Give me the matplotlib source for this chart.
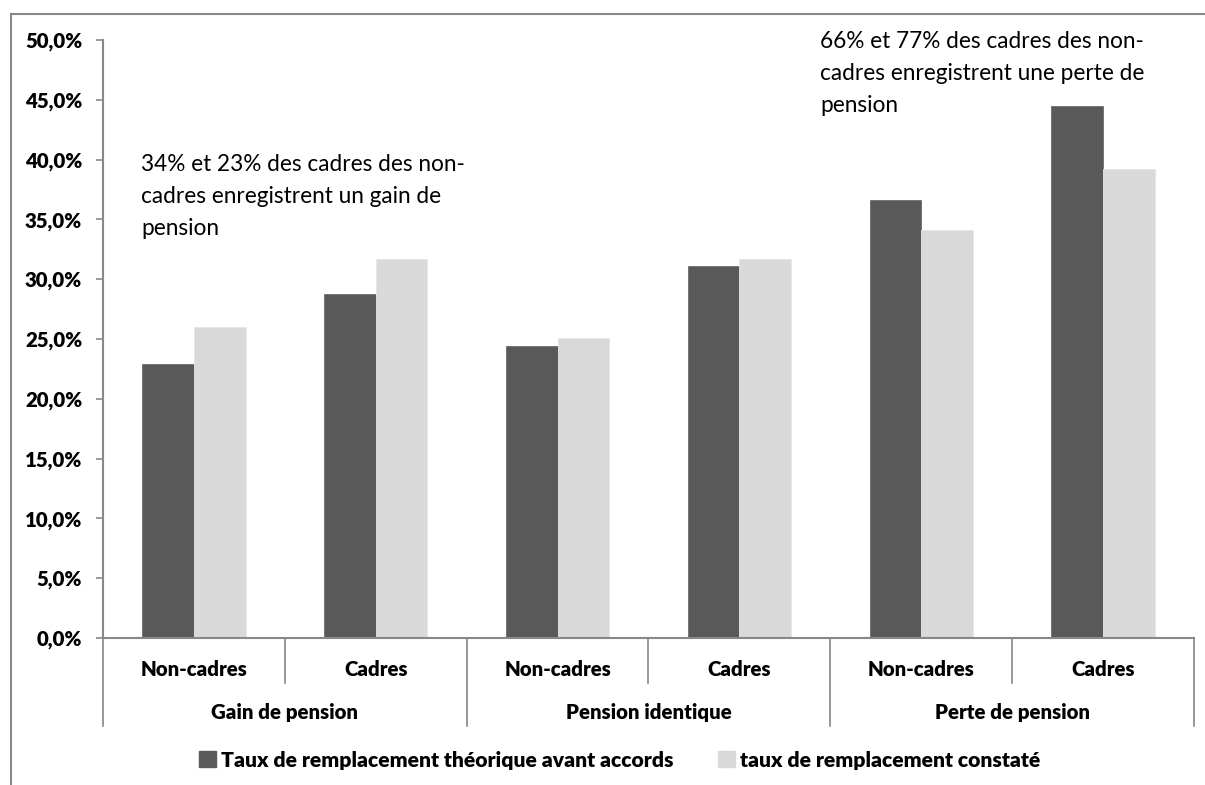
import matplotlib
matplotlib.use("Agg")
import matplotlib.pyplot as plt
from matplotlib.patches import Patch
from matplotlib.lines import Line2D
import matplotlib.transforms as mtransforms
from matplotlib.ticker import FuncFormatter, MultipleLocator

plt.rcParams['font.family'] = ['Lato', 'DejaVu Sans']

# Data
groups = ["Gain de pension", "Pension identique", "Perte de pension"]
subcats = ["Non-cadres", "Cadres", "Non-cadres", "Cadres", "Non-cadres", "Cadres"]
series_names = ["Taux de remplacement théorique avant accords",
                "taux de remplacement constaté"]
theorique = [22.9, 28.8, 24.4, 31.1, 36.6, 44.5]
constate = [26.0, 31.7, 25.1, 31.7, 34.1, 39.2]

dark = "#595959"
light = "#d9d9d9"
axis_gray = "#888888"
label_size = 14.7
bold = "heavy"

W, H = 1205, 785
fig = plt.figure(figsize=(W / 100, H / 100), dpi=100)
ax = fig.add_axes([103 / W, 1 - 638 / H, (1194 - 103) / W, (638 - 40) / H])

x = list(range(len(subcats)))
bw = 0.284
ax.bar([i - bw / 2 for i in x], theorique, width=bw, color=dark,
       edgecolor="#6e6e6e", linewidth=0.6, label=series_names[0])
ax.bar([i + bw / 2 for i in x], constate, width=bw, color=light,
       edgecolor="#e6e6e6", linewidth=0.6, label=series_names[1])

ax.set_xlim(-0.5, len(subcats) - 0.5)
ax.set_ylim(0, 50)
ax.yaxis.set_major_locator(MultipleLocator(5))
ax.yaxis.set_major_formatter(FuncFormatter(lambda v, p: f"{v:.1f}%".replace(".", ",")))
ax.tick_params(axis="y", direction="out", length=5, width=1.2, color=axis_gray,
               labelsize=label_size, pad=10)
for lab in ax.get_yticklabels():
    lab.set_fontweight(bold)
ax.tick_params(axis="x", length=0, labelbottom=False)

for s in ["top", "right"]:
    ax.spines[s].set_visible(False)
for s in ["left", "bottom"]:
    ax.spines[s].set_color(axis_gray)
    ax.spines[s].set_linewidth(1.5)

# Two-level category axis
trans = mtransforms.blended_transform_factory(ax.transData, ax.transAxes)
inner_bottom = -(683 - 638) / 598
outer_bottom = -(726 - 638) / 598
for k in range(len(subcats) + 1):
    xb = k - 0.5
    y1 = outer_bottom if k % 2 == 0 else inner_bottom
    ax.add_line(Line2D([xb, xb], [0, y1], transform=trans, color=axis_gray,
                       lw=1.2, clip_on=False))
for i, name in enumerate(subcats):
    ax.text(i, -(669 - 638) / 598, name, transform=trans, ha="center", va="center",
            fontsize=label_size, fontweight=bold)
for g, name in enumerate(groups):
    ax.text(2 * g + 0.5, -(713 - 638) / 598, name, transform=trans, ha="center",
            va="center", fontsize=label_size, fontweight=bold)

# Annotations
ax.text(-0.291, 40.5, "34% et 23% des cadres des non-\ncadres enregistrent un gain de\npension",
        ha="left", va="top", fontsize=16.3, linespacing=1.65)
ax.text(3.444, 50.75, "66% et 77% des cadres des non-\ncadres enregistrent une perte de\npension",
        ha="left", va="top", fontsize=16.3, linespacing=1.65, clip_on=False)

# Legend
handles = [Patch(color=dark), Patch(color=light)]
leg = fig.legend(handles, series_names, loc="center", bbox_to_anchor=(620 / W, 1 - 760 / H),
                 ncol=2, frameon=False, handlelength=0.8, handleheight=0.8,
                 handletextpad=0.25, columnspacing=2.1,
                 prop={"weight": bold, "size": 15.2})

# Outer chart frame
fig.add_artist(Line2D([10.5 / W, 10.5 / W], [0, 1 - 14 / H], transform=fig.transFigure,
                      color=axis_gray, lw=1.5))
fig.add_artist(Line2D([10.5 / W, 1], [1 - 14 / H, 1 - 14 / H], transform=fig.transFigure,
                      color=axis_gray, lw=1.5))

fig.savefig("out.png", dpi=100)
